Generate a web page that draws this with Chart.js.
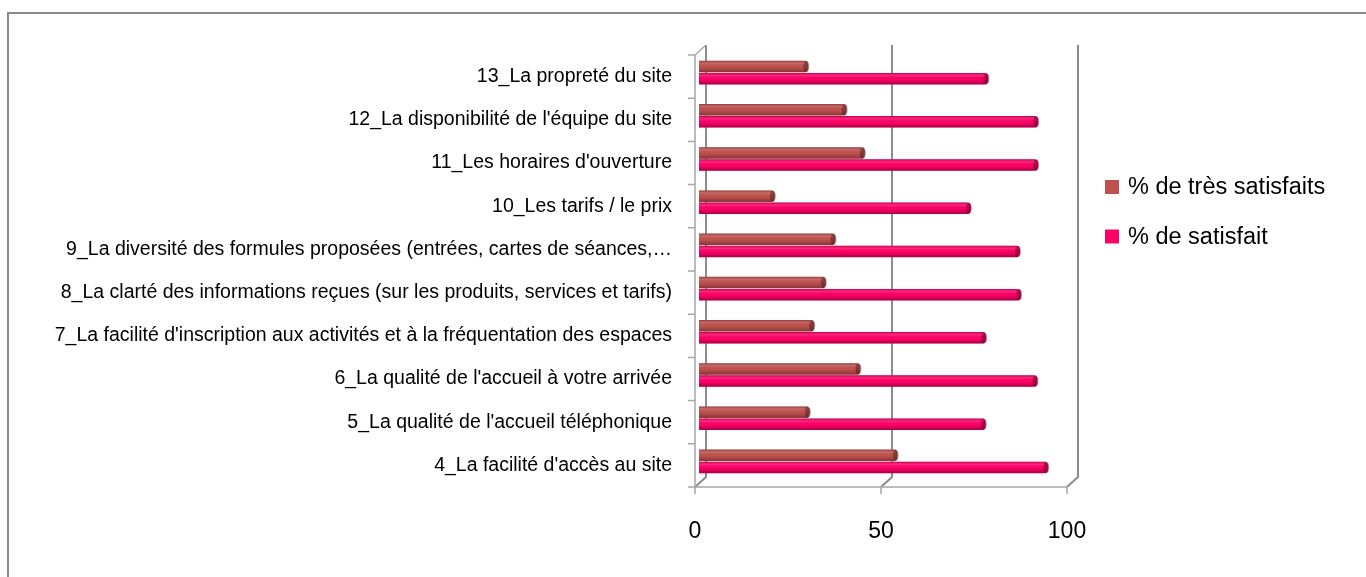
<!DOCTYPE html>
<html>
<head>
<meta charset="utf-8">
<script src="https://cdn.jsdelivr.net/npm/chart.js@4.4.0/dist/chart.umd.min.js"></script>
<style>
  body { margin: 0; background: #fff; overflow: hidden; }
  #frame { position: absolute; left: 7px; top: 12px; width: 1400px; height: 620px;
           border-left: 2px solid #8a8a8a; border-top: 2px solid #8a8a8a; }
  #chart { position: absolute; left: 0; top: 0; }
</style>
</head>
<body>
<div id="frame"></div>
<canvas id="chart" width="1366" height="577"></canvas>
<script>
// Questions, du haut vers le bas
const categories = [
  '13_La propreté du site',
  "12_La disponibilité de l'équipe du site",
  "11_Les horaires d'ouverture",
  '10_Les tarifs / le prix',
  '9_La diversité des formules proposées (entrées, cartes de séances,…',
  '8_La clarté des informations reçues (sur les produits, services et tarifs)',
  "7_La facilité d'inscription aux activités et à la fréquentation des espaces",
  "6_La qualité de l'accueil à votre arrivée",
  "5_La qualité de l'accueil téléphonique",
  "4_La facilité d'accès au site"
];
const tresSatisfaits = [29.4, 39.7, 44.6, 20.4, 36.7, 34.1, 31, 43.4, 29.8, 53.4];
const satisfaits = [77.8, 91.2, 91.2, 73.1, 86.3, 86.6, 77.2, 91, 77.1, 93.9];
const xTicks = [0, 50, 100];

const FONT = '"Liberation Sans", Arial, sans-serif';
const GRID = '#8c8c8c';

// cadre 3D : parois, grille du fond, graduations
const frame3d = {
  id: 'frame3d',
  beforeDatasetsDraw(chart) {
    const c = chart.ctx, xs = chart.scales.x, ys = chart.scales.y;
    const top = ys.top, bottom = ys.bottom;
    const f = { dx: -4, dy: 4 }, b = { dx: 7, dy: -6 };
    c.save();
    c.strokeStyle = GRID;
    c.lineWidth = 2;
    c.beginPath();
    xTicks.forEach(v => {
      const x = xs.getPixelForValue(v);
      c.moveTo(x + b.dx, top + b.dy);
      c.lineTo(x + b.dx, bottom + b.dy);
      c.lineTo(x + f.dx, bottom + f.dy);
    });
    c.stroke();
    c.lineWidth = 1.5;
    c.strokeStyle = '#a6a6a6';
    const x0 = xs.getPixelForValue(0), x1 = xs.getPixelForValue(100);
    c.beginPath();
    c.moveTo(x0 + b.dx, top + b.dy);
    c.lineTo(x0 + f.dx, top + f.dy);
    c.lineTo(x0 + f.dx, bottom + f.dy);
    c.lineTo(x1 + f.dx, bottom + f.dy);
    // graduations gauche
    const n = categories.length, step = (bottom - top) / n;
    for (let i = 0; i <= n; i++) {
      const y = top + i * step + f.dy;
      c.moveTo(x0 + f.dx - 7, y);
      c.lineTo(x0 + f.dx, y);
    }
    // graduations bas
    xTicks.forEach(v => {
      const x = xs.getPixelForValue(v) + f.dx;
      c.moveTo(x, bottom + f.dy);
      c.lineTo(x, bottom + f.dy + 7);
    });
    c.stroke();
    c.restore();
  },
  afterDatasetsDraw(chart) {
    // relief cylindrique des barres
    const c = chart.ctx;
    chart.data.datasets.forEach((ds, di) => {
      chart.getDatasetMeta(di).data.forEach(bar => {
        const h = bar.height, y0 = bar.y - h / 2;
        const g = c.createLinearGradient(0, y0, 0, y0 + h);
        g.addColorStop(0, 'rgba(0,0,0,0.25)');
        g.addColorStop(0.25, 'rgba(255,255,255,0.14)');
        g.addColorStop(0.55, 'rgba(0,0,0,0)');
        g.addColorStop(1, 'rgba(0,0,0,0.32)');
        c.save();
        c.fillStyle = g;
        c.fillRect(bar.base, y0, bar.x - bar.base - 2, h);
        c.beginPath();
        c.ellipse(bar.x - 2, bar.y, 3, h / 2, 0, 0, Math.PI * 2);
        c.fillStyle = 'rgba(0,0,0,0.3)';
        c.fill();
        c.restore();
      });
    });
  },
  afterDraw(chart) {
    // légende
    const c = chart.ctx;
    c.save();
    c.font = '23.5px ' + FONT;
    c.textBaseline = 'middle';
    chart.data.datasets.forEach((ds, i) => {
      const y = 187 + i * 49.5;
      c.fillStyle = ds.backgroundColor;
      c.fillRect(1105, y - 7, 14, 14);
      c.fillStyle = '#000';
      c.fillText(ds.label, 1128, y + 1);
    });
    c.restore();
  }
};

new Chart(document.getElementById('chart'), {
  type: 'bar',
  data: {
    labels: categories,
    datasets: [
      {
        label: '% de très satisfaits',
        data: tresSatisfaits,
        backgroundColor: '#c0504d',
        borderRadius: { topRight: 4, bottomRight: 4 },
        borderSkipped: false,
        categoryPercentage: 0.56,
        barPercentage: 0.95
      },
      {
        label: '% de satisfait',
        data: satisfaits,
        backgroundColor: '#ff0066',
        borderRadius: { topRight: 4, bottomRight: 4 },
        borderSkipped: false,
        categoryPercentage: 0.56,
        barPercentage: 0.95
      }
    ]
  },
  options: {
    indexAxis: 'y',
    responsive: false,
    animation: false,
    layout: { padding: { top: 51, right: 295, left: 0, bottom: 0 } },
    scales: {
      x: {
        min: 0,
        max: 100,
        afterFit: s => { s.height = 94; },
        afterBuildTicks: s => { s.ticks = xTicks.map(v => ({ value: v })); },
        grid: { display: false, drawTicks: false },
        border: { display: false },
        ticks: { padding: 35, labelOffset: -4, color: '#000', font: { family: FONT, size: 23 } }
      },
      y: {
        afterFit: s => { s.width = 699; },
        grid: { display: false, drawTicks: false },
        border: { display: false },
        ticks: { padding: 27, labelOffset: 4, color: '#000', font: { family: FONT, size: 19.5 } }
      }
    },
    plugins: {
      legend: { display: false },
      tooltip: { enabled: false }
    }
  },
  plugins: [frame3d]
});
</script>
</body>
</html>
